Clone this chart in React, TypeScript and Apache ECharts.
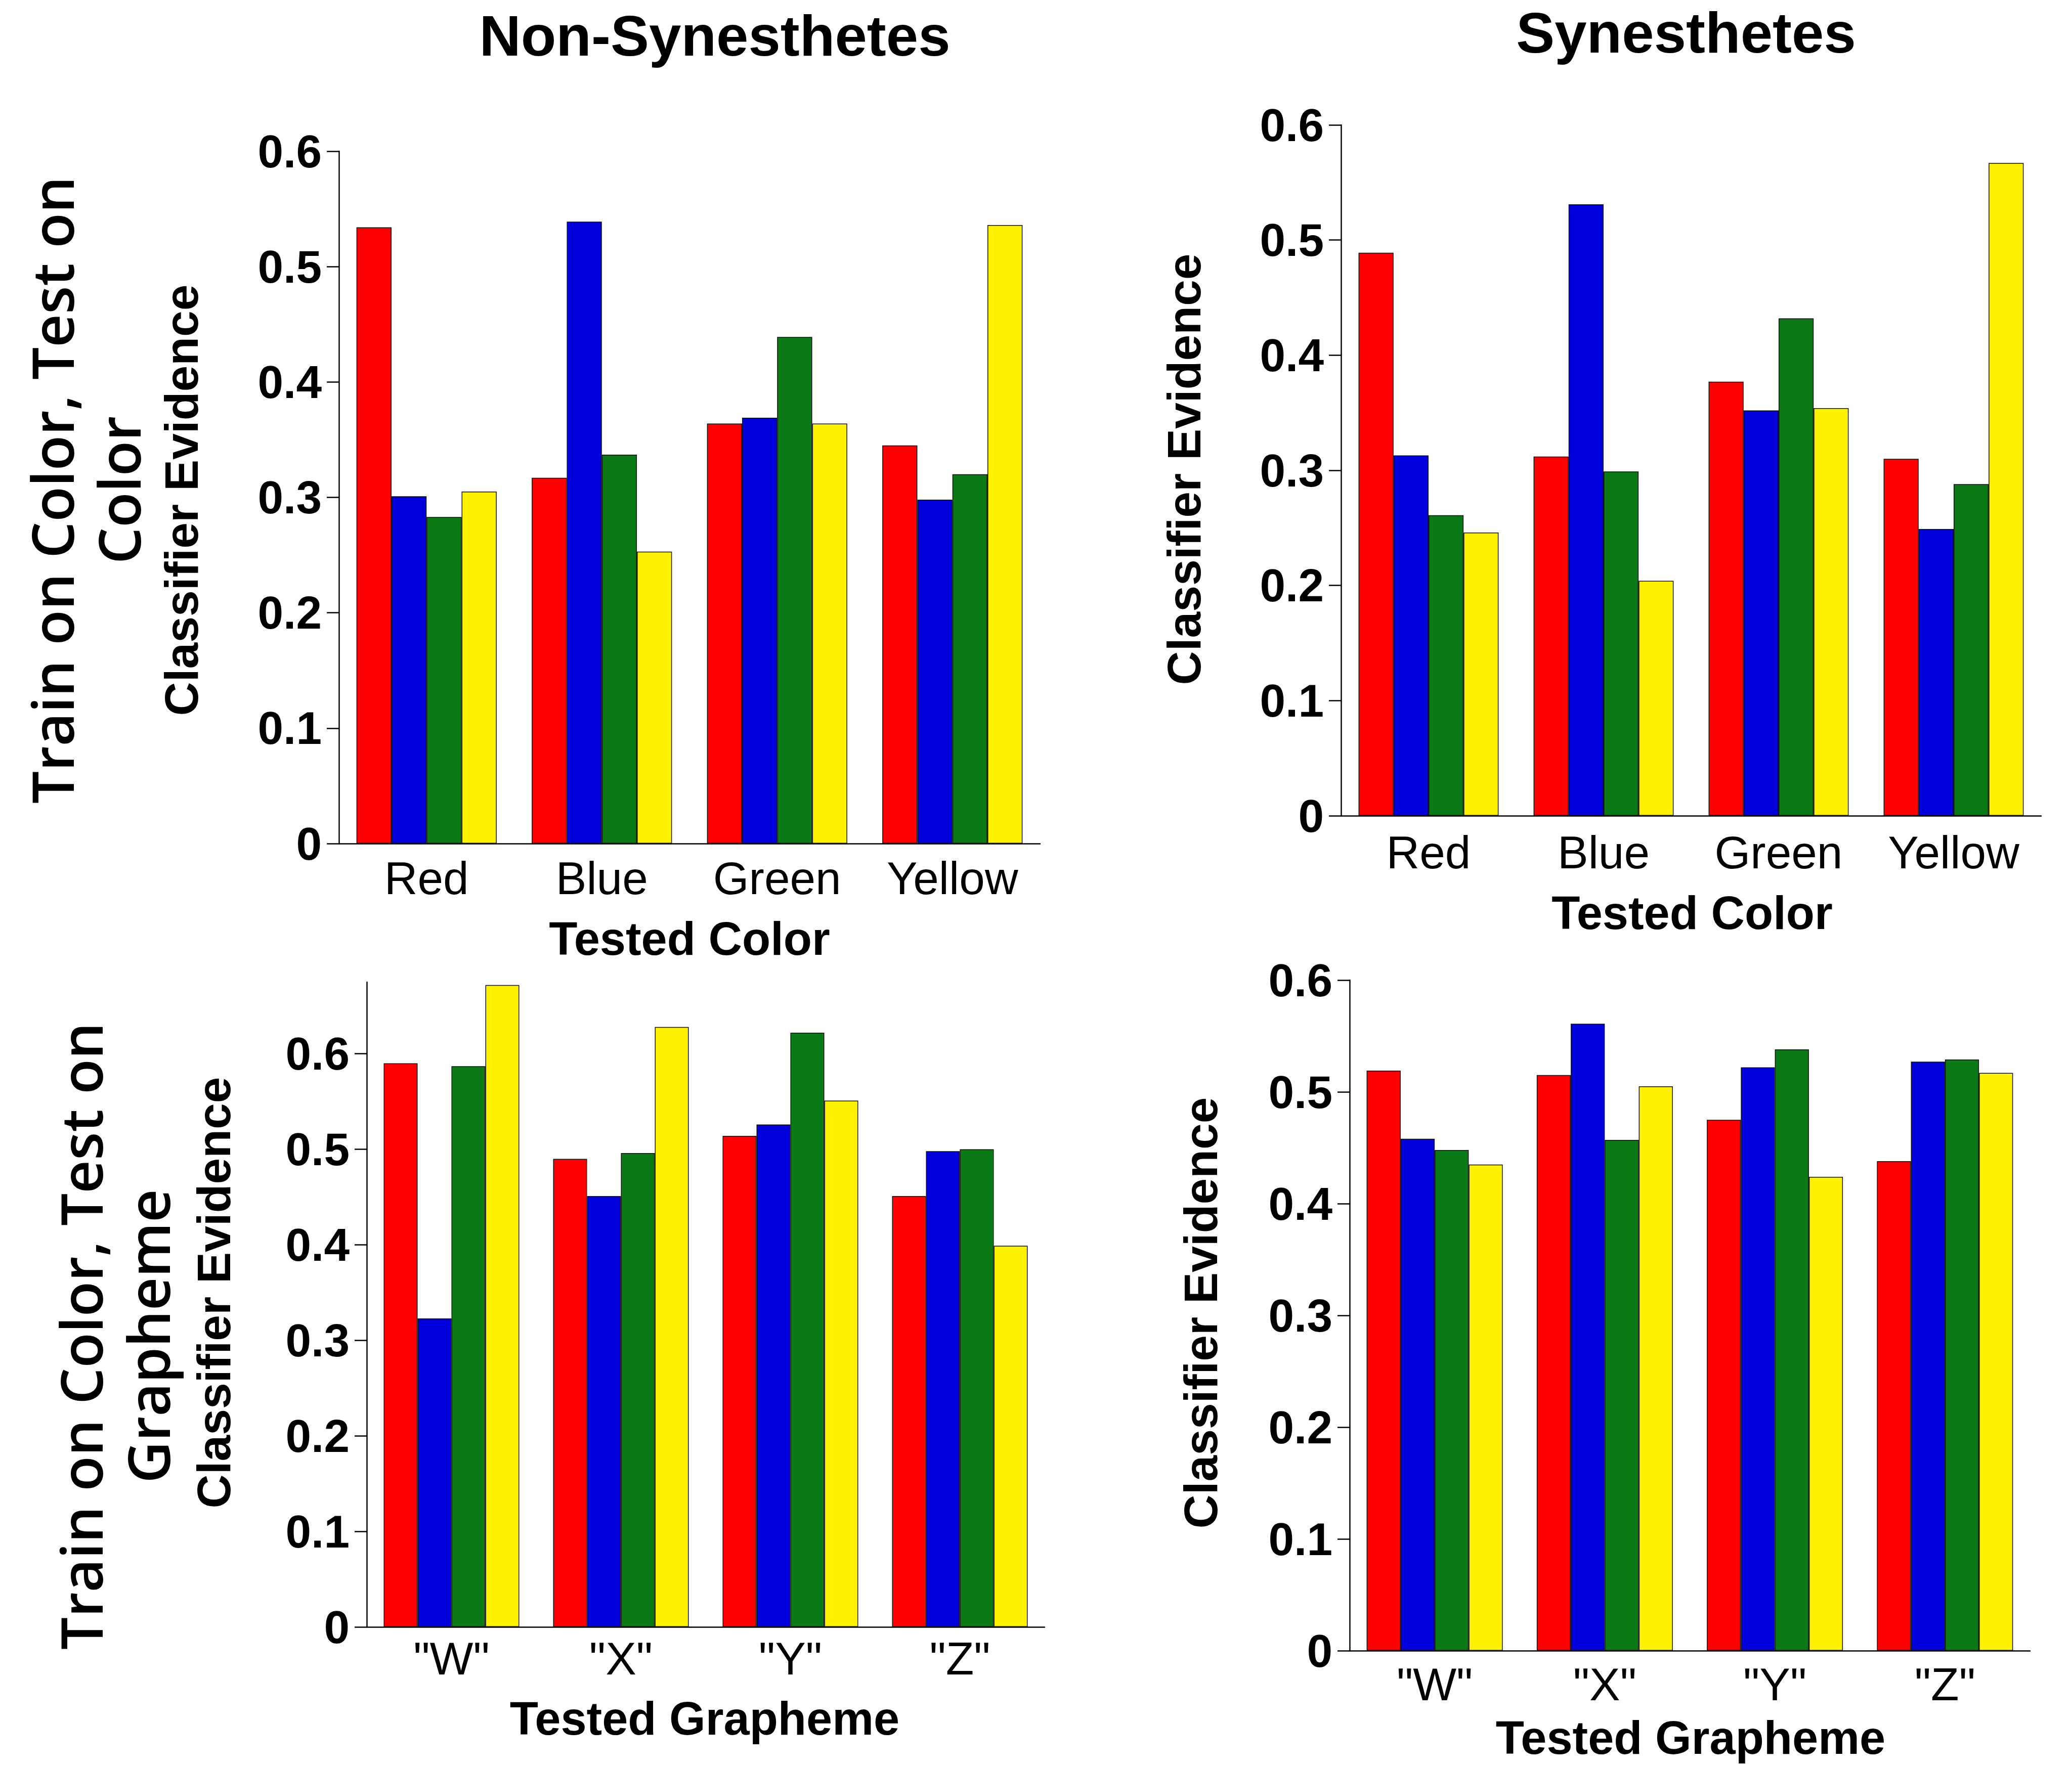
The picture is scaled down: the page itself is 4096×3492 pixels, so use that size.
import React, { useEffect, useRef } from "react";
import * as echarts from "echarts";

const colorCategories = ["Red", "Blue", "Green", "Yellow"];
const graphemeCategories = ['"W"', '"X"', '"Y"', '"Z"'];
const yTickValues = [0, 0.1, 0.2, 0.3, 0.4, 0.5, 0.6];

// Non-Synesthetes, Train on Color / Test on Color
const nsColorRed = [0.534, 0.317, 0.364, 0.345];
const nsColorBlue = [0.301, 0.539, 0.369, 0.298];
const nsColorGreen = [0.283, 0.337, 0.439, 0.32];
const nsColorYellow = [0.305, 0.253, 0.364, 0.536];

// Synesthetes, Train on Color / Test on Color
const sColorRed = [0.489, 0.312, 0.377, 0.31];
const sColorBlue = [0.313, 0.531, 0.352, 0.249];
const sColorGreen = [0.261, 0.299, 0.432, 0.288];
const sColorYellow = [0.246, 0.204, 0.354, 0.567];

// Non-Synesthetes, Train on Color / Test on Grapheme
const nsGraphRed = [0.59, 0.49, 0.514, 0.451];
const nsGraphBlue = [0.323, 0.451, 0.526, 0.498];
const nsGraphGreen = [0.587, 0.496, 0.622, 0.5];
const nsGraphYellow = [0.672, 0.628, 0.551, 0.399];

// Synesthetes, Train on Color / Test on Grapheme
const sGraphRed = [0.519, 0.515, 0.475, 0.438];
const sGraphBlue = [0.458, 0.561, 0.522, 0.527];
const sGraphGreen = [0.448, 0.457, 0.538, 0.529];
const sGraphYellow = [0.435, 0.505, 0.424, 0.517];

const seriesColors = ["#ff0000", "#0000dc", "#0b7a16", "#fff200"];
const FONT = "'Liberation Sans', Arial, Helvetica, sans-serif";

export default function App() {
  const ref = useRef<HTMLDivElement>(null);

  useEffect(() => {
    if (!ref.current) return;
    const chart = echarts.init(ref.current, null, { renderer: "svg" });

    const panels = [
      { grid: { left: 670, top: 299, width: 1386, height: 1369 }, cats: colorCategories, max: 0.6, labelMargin: 23, data: [nsColorRed, nsColorBlue, nsColorGreen, nsColorYellow] },
      { grid: { left: 2651, top: 247, width: 1384, height: 1366 }, cats: colorCategories, max: 0.6, labelMargin: 27, data: [sColorRed, sColorBlue, sColorGreen, sColorYellow] },
      { grid: { left: 725, top: 1942, width: 1340, height: 1275 }, cats: graphemeCategories, max: 0.675, labelMargin: 17, data: [nsGraphRed, nsGraphBlue, nsGraphGreen, nsGraphYellow] },
      { grid: { left: 2668, top: 1938, width: 1345, height: 1326 }, cats: graphemeCategories, max: 0.6, labelMargin: 21, data: [sGraphRed, sGraphBlue, sGraphGreen, sGraphYellow] },
    ];

    const grids = panels.map((p) => ({ ...p.grid, containLabel: false }));
    const xAxes = panels.map((p, i) => ({
      type: "category",
      gridIndex: i,
      data: p.cats,
      boundaryGap: true,
      axisLine: { show: true, lineStyle: { color: "#000", width: 2.5 } },
      axisTick: { show: false },
      axisLabel: {
        show: true,
        margin: p.labelMargin,
        fontFamily: FONT,
        fontSize: 91,
        lineHeight: 91,
        color: "#000",
        fontWeight: "normal",
      },
      splitLine: { show: false },
    }));
    const yAxes = panels.map((p, i) => ({
      type: "value",
      gridIndex: i,
      min: 0,
      max: p.max,
      interval: 0.1,
      axisLine: { show: true, lineStyle: { color: "#000", width: 2.5 } },
      axisTick: {
        show: true,
        inside: false,
        length: 24,
        lineStyle: { color: "#000", width: 2.5 },
        customValues: yTickValues,
      },
      axisLabel: {
        show: true,
        margin: 34,
        fontFamily: FONT,
        fontSize: 91,
        fontWeight: "bold",
        color: "#000",
        customValues: yTickValues,
        formatter: (v: number) => String(Math.round(v * 10) / 10),
      },
      splitLine: { show: false },
    }));

    const series: any[] = [];
    panels.forEach((p, i) => {
      p.data.forEach((vals, k) => {
        series.push({
          type: "bar",
          xAxisIndex: i,
          yAxisIndex: i,
          data: vals,
          barGap: "0%",
          barCategoryGap: "20%",
          itemStyle: { color: seriesColors[k], borderColor: "#111", borderWidth: 1.5 },
          emphasis: { disabled: true },
        });
      });
    });

    const txt = (x: number, y: number, text: string, size: number, opts: any = {}) => ({
      type: "text",
      x,
      y,
      rotation: opts.rotation || 0,
      style: {
        text,
        fontFamily: opts.family || FONT,
        fontSize: size,
        fontWeight: opts.weight || "bold",
        fill: "#000",
        textAlign: "center",
        textVerticalAlign: "middle",
        lineHeight: opts.lineHeight,
      },
    });

    const rowFont = "'Open Sans', 'Noto Sans', sans-serif";

    const graphic = [
      txt(1413, 70, "Non-Synesthetes", 114),
      txt(3333, 64, "Synesthetes", 114),
      txt(167, 969, "Train on Color, Test on\nColor", 114, { rotation: Math.PI / 2, family: rowFont, weight: 600, lineHeight: 132 }),
      txt(225, 2642, "Train on Color, Test on\nGrapheme", 114, { rotation: Math.PI / 2, family: rowFont, weight: 600, lineHeight: 133 }),
      txt(359, 989, "Classifier Evidence", 93, { rotation: Math.PI / 2 }),
      txt(2341, 928, "Classifier Evidence", 93, { rotation: Math.PI / 2 }),
      txt(423, 2556, "Classifier Evidence", 93, { rotation: Math.PI / 2 }),
      txt(2374, 2596, "Classifier Evidence", 93, { rotation: Math.PI / 2 }),
      txt(1363, 1856, "Tested Color", 92),
      txt(3345, 1805, "Tested Color", 92),
      txt(1393, 3398, "Tested Grapheme", 92),
      txt(3342, 3436, "Tested Grapheme", 92),
    ];

    chart.setOption({
      animation: false,
      backgroundColor: "#fff",
      grid: grids,
      xAxis: xAxes,
      yAxis: yAxes,
      series,
      graphic,
    });

    return () => chart.dispose();
  }, []);

  return (
    <div
      ref={ref}
      style={{ position: "absolute", left: 0, top: 0, width: 4096, height: 3492, background: "#fff" }}
    />
  );
}
